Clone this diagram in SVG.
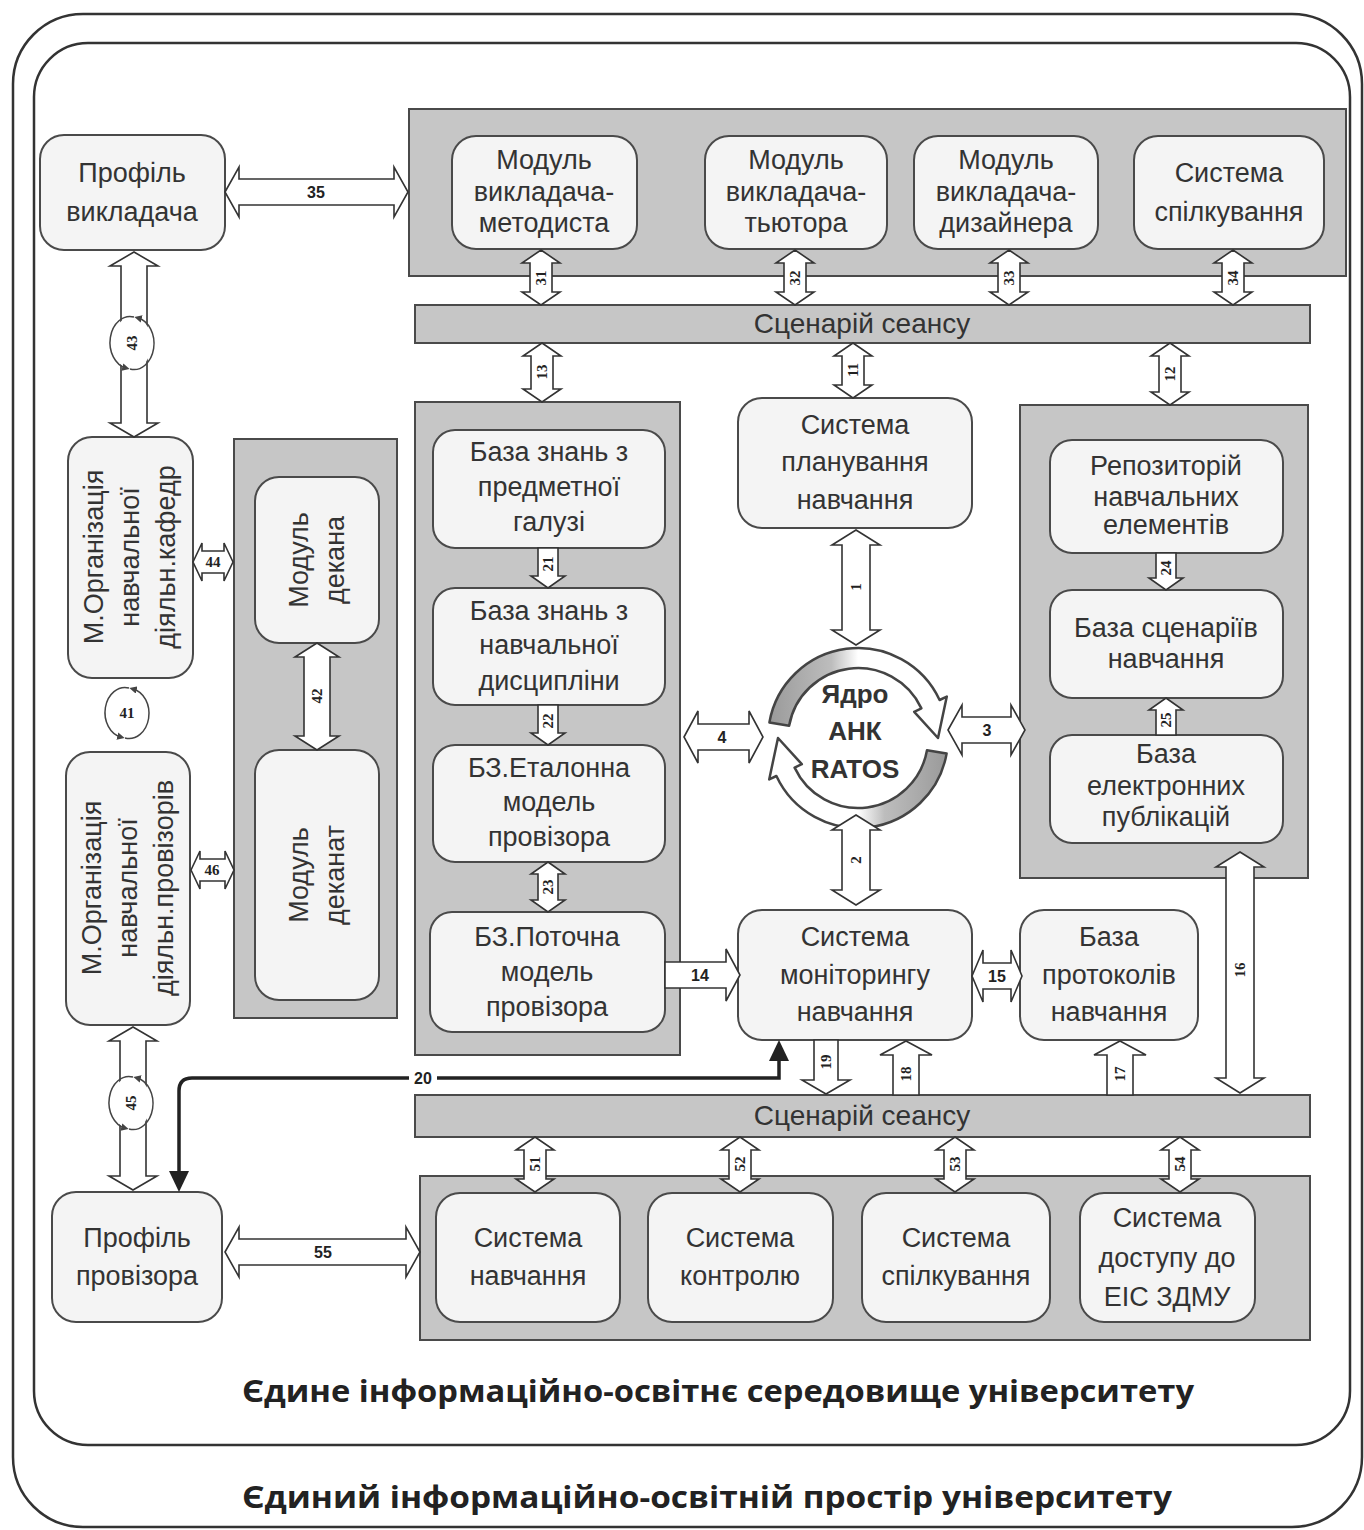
<svg xmlns="http://www.w3.org/2000/svg" width="1364" height="1530" viewBox="0 0 1364 1530">
<style>
.frame{fill:none;stroke:#333;stroke-width:2.5}
.cont{fill:#c6c6c6;stroke:#4a4a4a;stroke-width:2}
.box{fill:#f4f4f4;stroke:#4a4a4a;stroke-width:2}
.t{font-family:"Liberation Sans",Arial,sans-serif;font-size:27px;fill:#333;text-anchor:middle}
.bar{font-family:"Liberation Sans",Arial,sans-serif;font-size:28px;fill:#333;text-anchor:middle}
.arr{fill:#fff;stroke:#333;stroke-width:1.6;stroke-linejoin:miter}
.n{font-family:"Liberation Serif","Times New Roman",serif;font-size:15px;font-weight:bold;fill:#222;text-anchor:middle;dominant-baseline:central}
.ns{font-family:"Liberation Sans",Arial,sans-serif;font-size:16px;font-weight:bold;fill:#222;text-anchor:middle;dominant-baseline:central}
.core{font-family:"Liberation Sans",Arial,sans-serif;font-size:26px;font-weight:bold;fill:#333;text-anchor:middle}
.big{font-family:"Open Sans","Liberation Sans",sans-serif;font-size:30px;font-weight:bold;fill:#222;text-anchor:middle}
.cyc{fill:#fff;stroke:none}
.cyca{fill:none;stroke:#444;stroke-width:1.5;marker-end:url(#sa)}
</style>
<defs>
<marker id="sa" viewBox="0 0 10 10" refX="5" refY="5" markerWidth="5" markerHeight="5" orient="auto"><path d="M0 0 L10 5 L0 10 Z" fill="#444"/></marker>
<linearGradient id="gTop" x1="0" y1="0" x2="1" y2="0"><stop offset="0" stop-color="#9a9a9a"/><stop offset="0.35" stop-color="#bdbdbd"/><stop offset="0.5" stop-color="#fff"/><stop offset="1" stop-color="#fff"/></linearGradient>
<linearGradient id="gBot" x1="1" y1="0" x2="0" y2="0"><stop offset="0" stop-color="#9a9a9a"/><stop offset="0.35" stop-color="#bdbdbd"/><stop offset="0.5" stop-color="#fff"/><stop offset="1" stop-color="#fff"/></linearGradient>
</defs>
<rect width="1364" height="1530" fill="#fff"/>

<g id="frames">
<rect class="frame" x="13" y="14" width="1349" height="1513" rx="70"/>
<rect class="frame" x="34" y="43" width="1316" height="1402" rx="54" stroke-width="2"/>
<text class="big" x="718" y="1402" textLength="952" lengthAdjust="spacingAndGlyphs">Єдине інформаційно-освітнє середовище університету</text>
<text class="big" x="707" y="1508" textLength="930" lengthAdjust="spacingAndGlyphs">Єдиний інформаційно-освітній простір університету</text>
</g>

<g id="containers">
<rect id="top-panel" class="cont" x="409" y="109" width="937" height="167"/>
<rect id="kb-panel" class="cont" x="415" y="402" width="265" height="653"/>
<rect id="repo-panel" class="cont" x="1020" y="405" width="288" height="473"/>
<rect id="dean-panel" class="cont" x="234" y="439" width="163" height="579"/>
<rect id="bottom-panel" class="cont" x="420" y="1176" width="890" height="164"/>
</g>

<g id="scenario-top"><rect class="cont" x="415" y="305" width="895" height="38"/><text class="bar" x="862" y="333">Сценарій сеансу</text></g>
<g id="scenario-bottom"><rect class="cont" x="415" y="1095" width="895" height="42"/><text class="bar" x="862" y="1125">Сценарій сеансу</text></g>

<g id="profile-teacher"><rect class="box" x="40" y="135" width="185" height="115" rx="24"/><text class="t" x="132" y="182">Профіль</text><text class="t" x="132" y="221">викладача</text></g>
<g id="module-methodist"><rect class="box" x="452" y="136" width="185" height="113" rx="24"/><text class="t" x="544" y="169">Модуль</text><text class="t" x="544" y="201">викладача-</text><text class="t" x="544" y="232">методиста</text></g>
<g id="module-tutor"><rect class="box" x="705" y="136" width="182" height="113" rx="24"/><text class="t" x="796" y="169">Модуль</text><text class="t" x="796" y="201">викладача-</text><text class="t" x="796" y="232">тьютора</text></g>
<g id="module-designer"><rect class="box" x="914" y="136" width="184" height="113" rx="24"/><text class="t" x="1006" y="169">Модуль</text><text class="t" x="1006" y="201">викладача-</text><text class="t" x="1006" y="232">дизайнера</text></g>
<g id="comm-top"><rect class="box" x="1134" y="136" width="190" height="113" rx="24"/><text class="t" x="1229" y="182">Система</text><text class="t" x="1229" y="221">спілкування</text></g>

<g id="kb-domain"><rect class="box" x="433" y="430" width="232" height="118" rx="22"/><text class="t" x="549" y="461">База знань з</text><text class="t" x="549" y="496">предметної</text><text class="t" x="549" y="531">галузі</text></g>
<g id="kb-discipline"><rect class="box" x="433" y="588" width="232" height="117" rx="22"/><text class="t" x="549" y="620">База знань з</text><text class="t" x="549" y="654">навчальної</text><text class="t" x="549" y="690">дисципліни</text></g>
<g id="kb-reference"><rect class="box" x="433" y="745" width="232" height="117" rx="22"/><text class="t" x="549" y="777">БЗ.Еталонна</text><text class="t" x="549" y="811">модель</text><text class="t" x="549" y="846">провізора</text></g>
<g id="kb-current"><rect class="box" x="430" y="912" width="235" height="120" rx="22"/><text class="t" x="547" y="946">БЗ.Поточна</text><text class="t" x="547" y="981">модель</text><text class="t" x="547" y="1016">провізора</text></g>

<g id="planning"><rect class="box" x="738" y="398" width="234" height="130" rx="24"/><text class="t" x="855" y="434">Система</text><text class="t" x="855" y="471">планування</text><text class="t" x="855" y="509">навчання</text></g>

<g id="core">
<path d="M769.4 722.4 A90 90 0 0 1 939.6 700 L946.8 696.6 L938 738 L914.2 711.8 L921.4 708.4 A70 70 0 0 0 789.1 725.8 Z" fill="url(#gTop)" stroke="#444" stroke-width="2.5" stroke-linejoin="round"/>
<path d="M946.6 753.6 A90 90 0 0 1 776.4 776 L769.2 779.4 L778 738 L801.8 764.2 L794.6 767.6 A70 70 0 0 0 927 750.2 Z" fill="url(#gBot)" stroke="#444" stroke-width="2.5" stroke-linejoin="round"/>
<text class="core" x="855" y="703">Ядро</text><text class="core" x="855" y="740">АНК</text><text class="core" x="855" y="778">RATOS</text>
</g>

<g id="repository"><rect class="box" x="1050" y="440" width="233" height="113" rx="22"/><text class="t" x="1166" y="475">Репозиторій</text><text class="t" x="1166" y="506">навчальних</text><text class="t" x="1166" y="534">елементів</text></g>
<g id="scenario-base"><rect class="box" x="1050" y="590" width="233" height="108" rx="22"/><text class="t" x="1166" y="637">База сценаріїв</text><text class="t" x="1166" y="668">навчання</text></g>
<g id="e-publications"><rect class="box" x="1050" y="735" width="233" height="108" rx="22"/><text class="t" x="1166" y="763">База</text><text class="t" x="1166" y="795">електронних</text><text class="t" x="1166" y="826">публікацій</text></g>

<g id="monitoring"><rect class="box" x="738" y="910" width="234" height="130" rx="24"/><text class="t" x="855" y="946">Система</text><text class="t" x="855" y="984">моніторингу</text><text class="t" x="855" y="1021">навчання</text></g>
<g id="protocols"><rect class="box" x="1020" y="910" width="178" height="130" rx="24"/><text class="t" x="1109" y="946">База</text><text class="t" x="1109" y="984">протоколів</text><text class="t" x="1109" y="1021">навчання</text></g>

<g id="sys-learning"><rect class="box" x="436" y="1193" width="184" height="129" rx="24"/><text class="t" x="528" y="1247">Система</text><text class="t" x="528" y="1285">навчання</text></g>
<g id="sys-control"><rect class="box" x="648" y="1193" width="185" height="129" rx="24"/><text class="t" x="740" y="1247">Система</text><text class="t" x="740" y="1285">контролю</text></g>
<g id="sys-comm"><rect class="box" x="862" y="1193" width="188" height="129" rx="24"/><text class="t" x="956" y="1247">Система</text><text class="t" x="956" y="1285">спілкування</text></g>
<g id="sys-access"><rect class="box" x="1080" y="1193" width="175" height="129" rx="24"/><text class="t" x="1167" y="1227">Система</text><text class="t" x="1167" y="1267">доступу до</text><text class="t" x="1167" y="1306">ЕІС ЗДМУ</text></g>

<g id="profile-pharm"><rect class="box" x="52" y="1192" width="170" height="130" rx="24"/><text class="t" x="137" y="1247">Профіль</text><text class="t" x="137" y="1285">провізора</text></g>

<g id="org-dept"><rect class="box" x="68" y="437" width="125" height="241" rx="24"/>
<g transform="translate(130,557) rotate(-90)"><text class="t" x="0" y="-27">М.Організація</text><text class="t" x="0" y="9">навчальної</text><text class="t" x="0" y="45">діяльн.кафедр</text></g></g>
<g id="org-pharm"><rect class="box" x="66" y="752" width="124" height="273" rx="24"/>
<g transform="translate(128,888) rotate(-90)"><text class="t" x="0" y="-27">М.Організація</text><text class="t" x="0" y="9">навчальної</text><text class="t" x="0" y="45">діяльн.провізорів</text></g></g>
<g id="dean"><rect class="box" x="255" y="477" width="124" height="166" rx="24"/>
<g transform="translate(317,560) rotate(-90)"><text class="t" x="0" y="-9">Модуль</text><text class="t" x="0" y="27">декана</text></g></g>
<g id="deanery"><rect class="box" x="255" y="750" width="124" height="250" rx="24"/>
<g transform="translate(317,875) rotate(-90)"><text class="t" x="0" y="-9">Модуль</text><text class="t" x="0" y="27">деканат</text></g></g>

<g id="connectors">
<!-- 35, 55 -->
<path class="arr" d="M225 192 L239 167 L239 179 L394 179 L394 167 L408 192 L394 217 L394 205 L239 205 L239 217 Z"/><text class="ns" x="316" y="192">35</text>
<path class="arr" d="M225 1252 L239 1227 L239 1239 L406 1239 L406 1227 L420 1252 L406 1277 L406 1265 L239 1265 L239 1277 Z"/><text class="ns" x="323" y="1252">55</text>
<!-- 31-34 -->
<path class="arr" d="M541 250 L560 263 L552 263 L552 292 L560 292 L541 305 L522 292 L530 292 L530 263 L522 263 Z"/><text class="n" transform="translate(541,278) rotate(-90)">31</text>
<path class="arr" d="M795 250 L814 263 L806 263 L806 292 L814 292 L795 305 L776 292 L784 292 L784 263 L776 263 Z"/><text class="n" transform="translate(795,278) rotate(-90)">32</text>
<path class="arr" d="M1009 250 L1028 263 L1020 263 L1020 292 L1028 292 L1009 305 L990 292 L998 292 L998 263 L990 263 Z"/><text class="n" transform="translate(1009,278) rotate(-90)">33</text>
<path class="arr" d="M1233 250 L1252 263 L1244 263 L1244 292 L1252 292 L1233 305 L1214 292 L1222 292 L1222 263 L1214 263 Z"/><text class="n" transform="translate(1233,278) rotate(-90)">34</text>
<!-- 13, 11, 12 -->
<path class="arr" d="M542 343 L561 356 L553 356 L553 389 L561 389 L542 402 L523 389 L531 389 L531 356 L523 356 Z"/><text class="n" transform="translate(542,372) rotate(-90)">13</text>
<path class="arr" d="M853 343 L872 356 L864 356 L864 385 L872 385 L853 398 L834 385 L842 385 L842 356 L834 356 Z"/><text class="n" transform="translate(853,370) rotate(-90)">11</text>
<path class="arr" d="M1170 343 L1189 356 L1181 356 L1181 392 L1189 392 L1170 405 L1151 392 L1159 392 L1159 356 L1151 356 Z"/><text class="n" transform="translate(1170,374) rotate(-90)">12</text>
<!-- 1, 2 -->
<path class="arr" d="M856 530 L880 545 L870 545 L870 630 L880 630 L856 645 L832 630 L842 630 L842 545 L832 545 Z"/><text class="n" transform="translate(856,587) rotate(-90)">1</text>
<path class="arr" d="M856 815 L880 830 L870 830 L870 890 L880 890 L856 905 L832 890 L842 890 L842 830 L832 830 Z"/><text class="n" transform="translate(856,860) rotate(-90)">2</text>
<!-- 4, 3 -->
<path class="arr" d="M684 737 L698 711 L698 724 L749 724 L749 711 L763 737 L749 763 L749 750 L698 750 L698 763 Z"/><text class="ns" x="722" y="737">4</text>
<path class="arr" d="M948 730 L962 705 L962 717 L1011 717 L1011 705 L1025 730 L1011 755 L1011 743 L962 743 L962 755 Z"/><text class="ns" x="987" y="730">3</text>
<!-- 21, 22, 23 -->
<path class="arr" d="M538 548 L558 548 L558 576 L565 576 L548 588 L531 576 L538 576 Z"/><text class="n" transform="translate(548,564) rotate(-90)">21</text>
<path class="arr" d="M538 705 L558 705 L558 733 L565 733 L548 745 L531 733 L538 733 Z"/><text class="n" transform="translate(548,721) rotate(-90)">22</text>
<path class="arr" d="M548 862 L565 874 L558 874 L558 900 L565 900 L548 912 L531 900 L538 900 L538 874 L531 874 Z"/><text class="n" transform="translate(548,887) rotate(-90)">23</text>
<!-- 24, 25 -->
<path class="arr" d="M1156 553 L1176 553 L1176 578 L1183 578 L1166 590 L1149 578 L1156 578 Z"/><text class="n" transform="translate(1166,568) rotate(-90)">24</text>
<path class="arr" d="M1166 698 L1183 710 L1176 710 L1176 735 L1156 735 L1156 710 L1149 710 Z"/><text class="n" transform="translate(1166,720) rotate(-90)">25</text>
<!-- 14, 15 -->
<path class="arr" d="M665 962 L726 962 L726 949 L740 975 L726 1001 L726 988 L665 988 Z"/><text class="ns" x="700" y="975">14</text>
<path class="arr" d="M972 976 L983 950 L983 963 L1011 963 L1011 950 L1022 976 L1011 1002 L1011 989 L983 989 L983 1002 Z"/><text class="ns" x="997" y="976">15</text>
<!-- 16 -->
<path class="arr" d="M1240 852 L1264 867 L1254 867 L1254 1078 L1264 1078 L1240 1093 L1216 1078 L1226 1078 L1226 867 L1216 867 Z"/><text class="n" transform="translate(1240,970) rotate(-90)">16</text>
<!-- 19, 18, 17 -->
<path class="arr" d="M814 1040 L838 1040 L838 1080 L850 1080 L826 1094 L802 1080 L814 1080 Z"/><text class="n" transform="translate(826,1062) rotate(-90)">19</text>
<path class="arr" d="M906 1041 L932 1055 L919 1055 L919 1095 L893 1095 L893 1055 L880 1055 Z"/><text class="n" transform="translate(906,1074) rotate(-90)">18</text>
<path class="arr" d="M1120 1041 L1146 1055 L1133 1055 L1133 1095 L1107 1095 L1107 1055 L1094 1055 Z"/><text class="n" transform="translate(1120,1074) rotate(-90)">17</text>
<!-- 51-54 -->
<path class="arr" d="M535 1137 L554 1150 L546 1150 L546 1179 L554 1179 L535 1192 L516 1179 L524 1179 L524 1150 L516 1150 Z"/><text class="n" transform="translate(535,1164) rotate(-90)">51</text>
<path class="arr" d="M740 1137 L759 1150 L751 1150 L751 1179 L759 1179 L740 1192 L721 1179 L729 1179 L729 1150 L721 1150 Z"/><text class="n" transform="translate(740,1164) rotate(-90)">52</text>
<path class="arr" d="M955 1137 L974 1150 L966 1150 L966 1179 L974 1179 L955 1192 L936 1179 L944 1179 L944 1150 L936 1150 Z"/><text class="n" transform="translate(955,1164) rotate(-90)">53</text>
<path class="arr" d="M1180 1137 L1199 1150 L1191 1150 L1191 1179 L1199 1179 L1180 1192 L1161 1179 L1169 1179 L1169 1150 L1161 1150 Z"/><text class="n" transform="translate(1180,1164) rotate(-90)">54</text>
<!-- 42, 44, 46 -->
<path class="arr" d="M317 643 L339 657 L330 657 L330 736 L339 736 L317 750 L295 736 L304 736 L304 657 L295 657 Z"/><text class="n" transform="translate(317,696) rotate(-90)">42</text>
<path class="arr" d="M193 562 L202 543 L202 551 L224 551 L224 543 L233 562 L224 581 L224 573 L202 573 L202 581 Z"/><text class="n" x="213" y="562">44</text>
<path class="arr" d="M191 870 L200 851 L200 859 L225 859 L225 851 L234 870 L225 889 L225 881 L200 881 L200 889 Z"/><text class="n" x="212" y="870">46</text>
<!-- 43, 45 -->
<path class="arr" d="M134 252 L158 266 L147 266 L147 423 L158 423 L134 437 L110 423 L121 423 L121 266 L110 266 Z"/>
<g transform="translate(132,343)"><ellipse class="cyc" rx="20" ry="26"/><path class="cyca" d="M2 -26 A20 26 0 0 0 -6 25"/><path class="cyca" d="M-2 26 A20 26 0 0 0 6 -25"/><text class="n" transform="rotate(-90)">43</text></g>
<path class="arr" d="M133 1027 L157 1041 L146 1041 L146 1176 L157 1176 L133 1190 L109 1176 L120 1176 L120 1041 L109 1041 Z"/>
<g transform="translate(131,1103)"><ellipse class="cyc" rx="20" ry="26"/><path class="cyca" d="M2 -26 A20 26 0 0 0 -6 25"/><path class="cyca" d="M-2 26 A20 26 0 0 0 6 -25"/><text class="n" transform="rotate(-90)">45</text></g>
<!-- 41 -->
<g transform="translate(127,713)"><ellipse class="cyc" rx="20" ry="25"/><path class="cyca" d="M2 -25 A20 25 0 0 0 -6 24"/><path class="cyca" d="M-2 25 A20 25 0 0 0 6 -24"/><text class="n">41</text></g>
<!-- 20 -->
<path d="M779 1058 V1078 H192 Q179 1078 179 1091 V1174" fill="none" stroke="#222" stroke-width="3.5"/>
<polygon points="779,1040 789,1061 769,1061" fill="#222"/>
<polygon points="179,1192 169,1171 189,1171" fill="#222"/>
<rect x="409" y="1070" width="28" height="16" fill="#fff"/><text class="ns" x="423" y="1078">20</text>
</g>
</svg>
